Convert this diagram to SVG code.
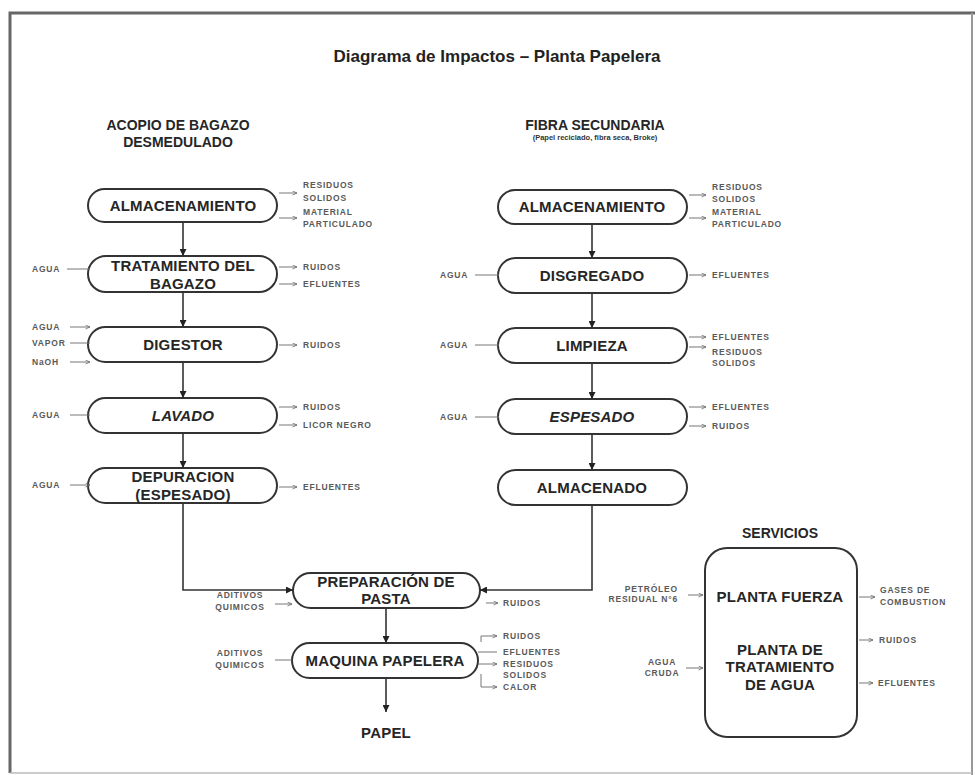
<svg xmlns="http://www.w3.org/2000/svg" width="975" height="775" viewBox="0 0 975 775">
<defs>
<marker id="ah" viewBox="0 0 10 10" refX="10" refY="5" markerWidth="7" markerHeight="7" orient="auto" markerUnits="userSpaceOnUse"><path d="M0,0 L10,5 L0,10 z" fill="#222"/></marker>
<marker id="sa" viewBox="0 0 10 10" refX="10" refY="5" markerWidth="5" markerHeight="5" orient="auto" markerUnits="userSpaceOnUse"><path d="M1,1 L10,5 L1,9" fill="none" stroke="#666" stroke-width="1.5"/></marker>
</defs>
<style>
.node{fill:#fff;stroke:#333;stroke-width:2}
.nt{font-family:"Liberation Sans",Arial,sans-serif;font-weight:bold;font-size:15px;fill:#262626;text-anchor:middle;letter-spacing:0.2px}
.it{font-style:italic}
.hd{font-family:"Liberation Sans",Arial,sans-serif;font-weight:bold;font-size:14px;fill:#262626;text-anchor:middle}
.sm{font-family:"Liberation Sans",Arial,sans-serif;font-size:8.5px;font-weight:bold;fill:#5a5a5a;letter-spacing:0.8px}
.con{fill:none;stroke:#333;stroke-width:1.6;marker-end:url(#ah)}
.side{fill:none;stroke:#777;stroke-width:1;marker-end:url(#sa)}
.line{fill:none;stroke:#777;stroke-width:1}
</style>
<rect x="0" y="0" width="975" height="775" fill="#fff"/>
<path d="M10,773 L10,13 L975,13" fill="none" stroke="#666" stroke-width="3"/>
<line x1="972" y1="13" x2="972" y2="775" stroke="#999" stroke-width="2"/>
<line x1="10" y1="773" x2="972" y2="773" stroke="#bbb" stroke-width="1.5"/>

<text x="497" y="62" font-family="'Liberation Sans',Arial,sans-serif" font-weight="bold" font-size="17" fill="#222" text-anchor="middle">Diagrama de Impactos – Planta Papelera</text>

<g id="hdr-left">
<text class="hd" x="178" y="130">ACOPIO DE BAGAZO</text>
<text class="hd" x="178" y="147">DESMEDULADO</text>
</g>
<g id="hdr-right">
<text class="hd" x="595" y="130">FIBRA SECUNDARIA</text>
<text x="595" y="140" font-family="'Liberation Sans',Arial,sans-serif" font-weight="bold" font-size="7.5" fill="#333" text-anchor="middle">(Papel reciclado, fibra seca, Broke)</text>
</g>

<!-- Left column nodes -->
<g id="l-almacenamiento"><rect class="node" x="88" y="189" width="189" height="33" rx="16.5"/><text class="nt" x="183" y="211">ALMACENAMIENTO</text></g>
<g id="l-tratamiento"><rect class="node" x="88" y="256" width="189" height="36" rx="18"/><text class="nt" x="183" y="271">TRATAMIENTO DEL</text><text class="nt" x="183" y="289">BAGAZO</text></g>
<g id="l-digestor"><rect class="node" x="88" y="327" width="189" height="35" rx="17.5"/><text class="nt" x="183" y="350">DIGESTOR</text></g>
<g id="l-lavado"><rect class="node" x="88" y="398" width="189" height="35" rx="17.5"/><text class="nt it" x="183" y="421">LAVADO</text></g>
<g id="l-depuracion"><rect class="node" x="88" y="468" width="189" height="35" rx="17.5"/><text class="nt" x="183" y="482">DEPURACION</text><text class="nt" x="183" y="500">(ESPESADO)</text></g>

<!-- Right column nodes -->
<g id="r-almacenamiento"><rect class="node" x="498" y="190" width="189" height="34" rx="17"/><text class="nt" x="592" y="212">ALMACENAMIENTO</text></g>
<g id="r-disgregado"><rect class="node" x="498" y="258" width="189" height="35" rx="17.5"/><text class="nt" x="592" y="281">DISGREGADO</text></g>
<g id="r-limpieza"><rect class="node" x="498" y="328" width="189" height="35" rx="17.5"/><text class="nt" x="592" y="351">LIMPIEZA</text></g>
<g id="r-espesado"><rect class="node" x="498" y="399" width="189" height="35" rx="17.5"/><text class="nt it" x="592" y="422">ESPESADO</text></g>
<g id="r-almacenado"><rect class="node" x="498" y="470" width="189" height="35" rx="17.5"/><text class="nt" x="592" y="493">ALMACENADO</text></g>

<!-- Center nodes -->
<g id="preparacion"><rect class="node" x="293" y="573" width="187" height="35" rx="17.5"/><text class="nt" x="386" y="587">PREPARACIÓN DE</text><text class="nt" x="386" y="604">PASTA</text></g>
<g id="maquina"><rect class="node" x="292" y="643" width="186" height="35" rx="17.5"/><text class="nt" x="385" y="666">MAQUINA PAPELERA</text></g>
<g id="papel"><text class="nt" x="386" y="738">PAPEL</text></g>

<!-- Services -->
<g id="servicios">
<text class="hd" x="780" y="538">SERVICIOS</text>
<rect class="node" x="705" y="548" width="152" height="189" rx="22"/>
<text class="nt" x="780" y="602">PLANTA FUERZA</text>
<text class="nt" x="780" y="655">PLANTA DE</text>
<text class="nt" x="780" y="672">TRATAMIENTO</text>
<text class="nt" x="780" y="690">DE AGUA</text>
</g>

<!-- Main connectors -->
<g id="connectors">
<line class="con" x1="183" y1="222" x2="183" y2="256"/>
<line class="con" x1="183" y1="292" x2="183" y2="327"/>
<line class="con" x1="183" y1="362" x2="183" y2="398"/>
<line class="con" x1="183" y1="433" x2="183" y2="468"/>
<path class="con" d="M183,503 L183,590 L293,590"/>
<line class="con" x1="592" y1="224" x2="592" y2="258"/>
<line class="con" x1="592" y1="293" x2="592" y2="328"/>
<line class="con" x1="592" y1="363" x2="592" y2="399"/>
<line class="con" x1="592" y1="434" x2="592" y2="470"/>
<path class="con" d="M592,505 L592,590 L480,590"/>
<line class="con" x1="386" y1="608" x2="386" y2="643"/>
<line class="con" x1="386" y1="678" x2="386" y2="712"/>
</g>

<!-- Side input/output arrows -->
<g id="side-arrows">
<line class="side" x1="279" y1="193" x2="297" y2="193"/>
<line class="side" x1="279" y1="218" x2="297" y2="218"/>
<line class="line" x1="67" y1="269" x2="90" y2="269"/>
<line class="side" x1="279" y1="267" x2="297" y2="267"/>
<line class="side" x1="279" y1="284" x2="297" y2="284"/>
<line class="side" x1="70" y1="327" x2="90" y2="327"/>
<line class="line" x1="70" y1="343" x2="90" y2="343"/>
<line class="side" x1="70" y1="362" x2="90" y2="362"/>
<line class="side" x1="279" y1="345" x2="297" y2="345"/>
<line class="line" x1="70" y1="415" x2="90" y2="415"/>
<line class="side" x1="279" y1="407" x2="297" y2="407"/>
<line class="side" x1="279" y1="425" x2="297" y2="425"/>
<line class="side" x1="70" y1="485" x2="90" y2="485"/>
<line class="side" x1="279" y1="487" x2="297" y2="487"/>

<line class="side" x1="689" y1="195" x2="706" y2="195"/>
<line class="side" x1="689" y1="218" x2="706" y2="218"/>
<line class="line" x1="475" y1="275" x2="499" y2="275"/>
<line class="side" x1="689" y1="275" x2="706" y2="275"/>
<line class="line" x1="475" y1="345" x2="499" y2="345"/>
<line class="side" x1="689" y1="337" x2="706" y2="337"/>
<line class="side" x1="689" y1="347" x2="706" y2="347"/>
<line class="line" x1="475" y1="417" x2="499" y2="417"/>
<line class="side" x1="689" y1="407" x2="706" y2="407"/>
<line class="side" x1="689" y1="426" x2="706" y2="426"/>

<line class="side" x1="275" y1="604" x2="292" y2="604"/>
<line class="side" x1="486" y1="603" x2="498" y2="603"/>
<line class="line" x1="275" y1="660" x2="292" y2="660"/>
<path class="side" d="M481,642 L481,636 L497,636"/>
<line class="line" x1="478" y1="652" x2="497" y2="652"/>
<line class="side" x1="478" y1="664" x2="497" y2="664"/>
<path class="side" d="M481,674 L481,687 L497,687"/>

<line class="side" x1="688" y1="595" x2="703" y2="595"/>
<line class="side" x1="686" y1="668" x2="703" y2="668"/>
<line class="side" x1="859" y1="597" x2="875" y2="597"/>
<line class="side" x1="859" y1="640" x2="873" y2="640"/>
<line class="side" x1="859" y1="683" x2="873" y2="683"/>
</g>

<!-- Side labels -->
<g id="side-labels">
<text class="sm" x="303" y="188">RESIDUOS</text>
<text class="sm" x="303" y="201">SOLIDOS</text>
<text class="sm" x="303" y="215">MATERIAL</text>
<text class="sm" x="303" y="227">PARTICULADO</text>
<text class="sm" x="32" y="272">AGUA</text>
<text class="sm" x="303" y="270">RUIDOS</text>
<text class="sm" x="303" y="287">EFLUENTES</text>
<text class="sm" x="32" y="330">AGUA</text>
<text class="sm" x="32" y="346">VAPOR</text>
<text class="sm" x="32" y="365">NaOH</text>
<text class="sm" x="303" y="348">RUIDOS</text>
<text class="sm" x="32" y="418">AGUA</text>
<text class="sm" x="303" y="410">RUIDOS</text>
<text class="sm" x="303" y="428">LICOR NEGRO</text>
<text class="sm" x="32" y="488">AGUA</text>
<text class="sm" x="303" y="490">EFLUENTES</text>

<text class="sm" x="712" y="190">RESIDUOS</text>
<text class="sm" x="712" y="202">SOLIDOS</text>
<text class="sm" x="712" y="215">MATERIAL</text>
<text class="sm" x="712" y="227">PARTICULADO</text>
<text class="sm" x="440" y="278">AGUA</text>
<text class="sm" x="712" y="278">EFLUENTES</text>
<text class="sm" x="440" y="348">AGUA</text>
<text class="sm" x="712" y="340">EFLUENTES</text>
<text class="sm" x="712" y="355">RESIDUOS</text>
<text class="sm" x="712" y="366">SOLIDOS</text>
<text class="sm" x="440" y="420">AGUA</text>
<text class="sm" x="712" y="410">EFLUENTES</text>
<text class="sm" x="712" y="429">RUIDOS</text>

<text class="sm" x="240" y="598" text-anchor="middle">ADITIVOS</text>
<text class="sm" x="240" y="610" text-anchor="middle">QUIMICOS</text>
<text class="sm" x="503" y="606">RUIDOS</text>
<text class="sm" x="240" y="656" text-anchor="middle">ADITIVOS</text>
<text class="sm" x="240" y="668" text-anchor="middle">QUIMICOS</text>
<text class="sm" x="503" y="639">RUIDOS</text>
<text class="sm" x="503" y="655">EFLUENTES</text>
<text class="sm" x="503" y="667">RESIDUOS</text>
<text class="sm" x="503" y="678">SOLIDOS</text>
<text class="sm" x="503" y="690">CALOR</text>

<text class="sm" x="678" y="592" text-anchor="end">PETRÓLEO</text>
<text class="sm" x="678" y="602" text-anchor="end">RESIDUAL N°6</text>
<text class="sm" x="662" y="665" text-anchor="middle">AGUA</text>
<text class="sm" x="662" y="676" text-anchor="middle">CRUDA</text>
<text class="sm" x="880" y="593">GASES DE</text>
<text class="sm" x="880" y="605">COMBUSTION</text>
<text class="sm" x="879" y="643">RUIDOS</text>
<text class="sm" x="878" y="686">EFLUENTES</text>
</g>
</svg>
